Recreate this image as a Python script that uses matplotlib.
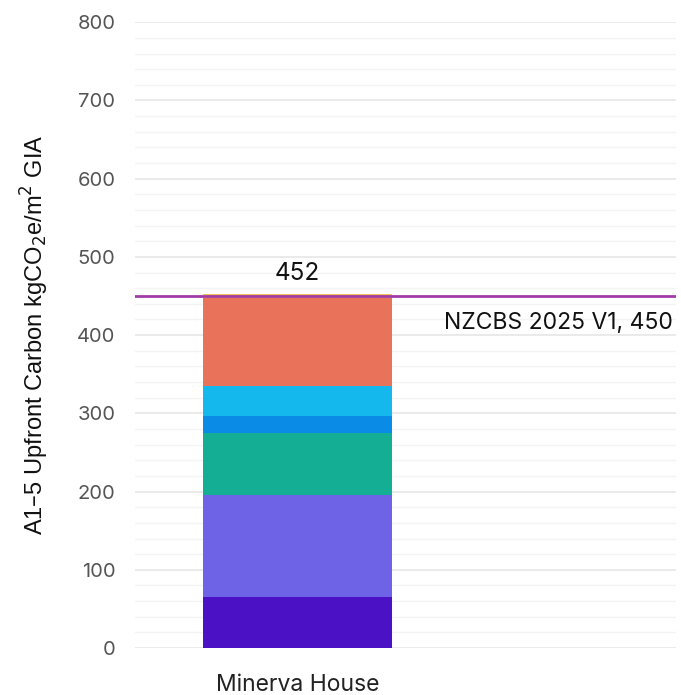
import matplotlib
matplotlib.use('Agg')
import matplotlib.pyplot as plt
import numpy as np

# stacked components of upfront carbon, bottom to top
building = ["Minerva House"]
segments = [65, 130, 80, 22, 38, 112, 5]
colors = ["#4a12c4", "#6e63e6", "#14ae94", "#0a8be6", "#14b8ec", "#e8725a", "#f0c05a"]
total = 452
target = 450
target_label = "NZCBS 2025 V1, 450"

plt.rcParams['font.family'] = ['Inter', 'DejaVu Sans']

fig = plt.figure(figsize=(6.81, 6.95), dpi=100)
ax = fig.add_axes([0.198, 0.0676, 0.795, 0.9004])

bottom = 0
for val, col in zip(segments, colors):
    ax.bar(0, val, width=0.35, bottom=bottom, color=col, zorder=3)
    bottom += val

ax.axhline(target, color="#a23ca6", lw=2, zorder=4)
ax.text(0.7 - 0.006, target - 21, target_label, ha="right", va="top",
        fontsize=16.5, color="#111111")
ax.text(0, total + 12, str(total), ha="center", va="bottom",
        fontsize=17.5, color="#111111")

ax.set_xlim(-0.3, 0.7)
ax.set_ylim(0, 800)
ax.set_xticks([0])
ax.set_xticklabels(building, fontsize=16.5, color="#222222")
ax.set_yticks(np.arange(0, 801, 100))
ax.set_yticks(np.arange(0, 801, 20), minor=True)
ax.tick_params(axis="y", which="both", length=0, pad=14, labelsize=14.5, labelcolor="#555555")
ax.tick_params(axis="x", length=0, pad=19)
ax.grid(axis="y", which="major", color="#e6e6e6", lw=1.2, zorder=0)
ax.grid(axis="y", which="minor", color="#f4f4f4", lw=1.0, zorder=0)
for s in ax.spines.values():
    s.set_visible(False)

fig.text(0.051, 0.518, "A1\u20135 Upfront Carbon kgCO$_2$e/m$^2$ GIA", rotation=90,
         ha="center", va="center", fontsize=17, family=["Liberation Sans", "DejaVu Sans"],
         color="#111111")

fig.savefig("out.png", dpi=100)
